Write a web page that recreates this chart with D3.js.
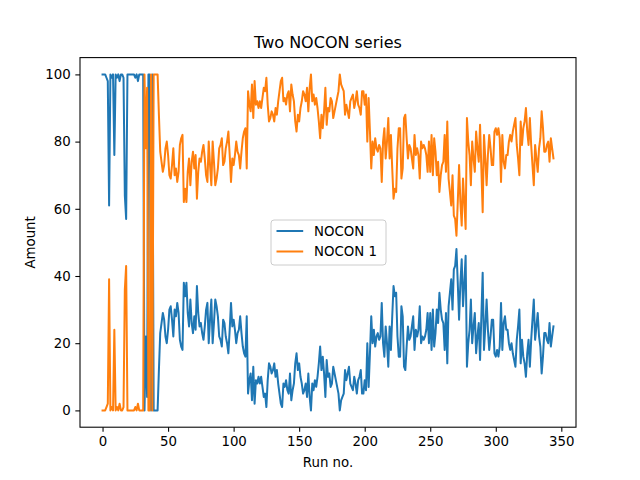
<!DOCTYPE html>
<html lang="en">
<head>
  <meta charset="UTF-8">
  <title>Two NOCON series</title>
  <script src="https://d3js.org/d3.v7.min.js"></script>
  <style>
    body {
      margin: 0;
      padding: 0;
      background-color: white;
    }
    svg text {
      font-family: "DejaVu Sans", sans-serif;
      fill: black;
    }
  </style>
</head>
<body>
  <div id="chart"></div>

  <script>
    // NOCON readings, one per run (run no. = index)
    const nocon = [
      100,100,100,99,98, 61,100,99,100,76, 100,99,100,98,100, 100,99,64,57,100,
      100,100,100,100,100, 99,100,98,100,100, 100,100,
      0,22,4,100,100,0,100,0,0,0,0,12,
      23,26,29,27,22, 20,24,30,31,27, 22,30,28,32,29, 21,19,18,38,34,
      38,29,25,33,26, 23,28,24,37,29, 25,
      26,23,21,25,30, 32,20,27,33,20, 26,33,31,28,22, 21,19,27,26,22,
      20,17,24,32,25, 27,24,20,23,24, 28,23,19,17,16, 28,5,9,
      11,3,13,2,9, 8,10,8,10,7, 4,5,1,9,14, 13,11,12,14,10,
      12,8,5,2,1, 8,7,9,6,5, 11,3,6,8,14, 17,12,
      14,10,8,5,6, 8,4,11,4,0, 8,6,9,7,10, 14,19,12,16,11,
      4,15,10,11,7, 8,13,11,9,7, 5,0,3,4,5, 12,9,11,13,8,
      7,6,10,8,5, 9,10,12,5,5, 9,6,
      20,7,17,28,20, 24,19,22,23,21, 22,32,20,16,25, 20,13,25,18,28,
      37,34,35,22,16, 16,31,28,13,12, 19,25,21,22,25, 28,18,24,22,24,
      31,20,22,21,22, 24,29,20,
      29,18,30,19,23, 30,26,35,30,27, 26,18,29,14,31, 35,39,30,42,43,
      48,38,27,38,45, 31,38,46,13,20, 24,33,20,25,29, 17,22,26,15,28,
      41,18,25,33,24, 18,22,27,27,17, 16,18,16,19,
      32,18,26,28,24, 24,20,18,20,17, 15,13,21,25,30, 14,21,16,14,10,
      17,21,13,21,27, 33,21,25,29,22, 19,11,16,23,23, 21,20,26,19,22,
      25
    ];

    // NOCON 1 readings, one per run
    const nocon1 = [
      0,0,0,1,2, 39,0,1,0,24, 0,1,0,2,0, 0,1,36,43,0,
      0,0,0,0,0, 1,0,2,0,0, 0,0,
      100,78,96,0,0,100,0,100,100,100,100,88,
      77,74,71,73,78, 80,76,70,69,73, 78,70,72,68,71, 79,81,82,62,66,
      62,71,75,67,74, 77,72,76,63,71, 75,
      74,77,79,75,70, 68,80,73,67,80, 74,67,69,72,78, 79,81,73,74,78,
      80,83,76,68,75, 73,76,80,77,76, 72,77,81,83,84, 72,95,91,
      89,97,87,98,91, 92,90,92,90,93, 96,95,99,91,86, 87,89,88,86,90,
      88,92,95,98,99, 92,93,91,94,95, 89,97,94,92,86, 83,88,
      86,90,92,95,94, 92,96,89,96,100, 92,94,91,93,90, 86,81,88,84,89,
      96,85,90,89,93, 92,87,89,91,93, 95,100,97,96,95, 88,91,89,87,92,
      93,94,90,92,95, 91,90,88,95,95, 91,94,
      80,93,83,72,80, 76,81,78,77,79, 78,68,80,84,75, 80,87,75,82,72,
      63,66,65,78,84, 84,69,72,87,88, 81,75,79,78,75, 72,82,76,78,76,
      69,80,78,79,78, 76,71,80,
      71,82,70,81,77, 70,74,65,70,73, 74,82,71,86,69, 65,61,70,58,57,
      52,62,73,62,55, 69,62,54,87,80, 76,67,80,75,71, 83,78,74,85,72,
      59,82,75,67,76, 82,78,73,73,83, 84,82,84,81,
      68,82,74,72,76, 76,80,82,80,83, 85,87,79,75,70, 86,79,84,86,90,
      83,79,87,79,73, 67,79,75,71,78, 81,89,84,77,77, 79,80,74,81,78,
      75
    ];

    const seriesNames = ["NOCON", "NOCON 1"];
    const seriesColors = ["#1f77b4", "#ff7f0e"];
    const xTicks = [0, 50, 100, 150, 200, 250, 300, 350];
    const yTicks = [0, 20, 40, 60, 80, 100];

    const width = 640;
    const height = 480;
    const margin = { top: 57.6, right: 64, bottom: 52.8, left: 80 };

    const svg = d3.select("#chart")
      .append("svg")
      .attr("width", width)
      .attr("height", height);

    const n = nocon.length;
    const x = d3.scaleLinear()
      .domain([-(n - 1) * 0.05, (n - 1) * 1.05])
      .range([margin.left, width - margin.right]);

    const y = d3.scaleLinear()
      .domain([-5, 105])
      .range([height - margin.bottom, margin.top]);

    // axes
    const xAxis = svg.append("g")
      .attr("transform", `translate(0,${height - margin.bottom})`)
      .call(d3.axisBottom(x).tickValues(xTicks).tickSize(4.67).tickPadding(4.67).tickSizeOuter(0));

    const yAxis = svg.append("g")
      .attr("transform", `translate(${margin.left},0)`)
      .call(d3.axisLeft(y).tickValues(yTicks).tickSize(4.67).tickPadding(4.67).tickSizeOuter(0));

    [xAxis, yAxis].forEach(g => {
      g.select(".domain").remove();
      g.selectAll(".tick line").attr("stroke", "black").attr("stroke-width", 1.07);
      g.selectAll(".tick text")
        .style("font-size", "13.33px")
        .style("font-family", "'DejaVu Sans', sans-serif")
        .attr("fill", "black");
    });

    // lines
    const line = d3.line()
      .x((d, i) => x(i))
      .y(d => y(d));

    [nocon, nocon1].forEach((s, k) => {
      svg.append("path")
        .datum(s)
        .attr("fill", "none")
        .attr("stroke", seriesColors[k])
        .attr("stroke-width", 2)
        .attr("stroke-linejoin", "round")
        .attr("stroke-linecap", "square")
        .attr("d", line);
    });

    // frame
    svg.append("rect")
      .attr("x", margin.left)
      .attr("y", margin.top)
      .attr("width", width - margin.left - margin.right)
      .attr("height", height - margin.top - margin.bottom)
      .attr("fill", "none")
      .attr("stroke", "black")
      .attr("stroke-width", 1.07);

    // title and labels
    svg.append("text")
      .attr("x", (margin.left + width - margin.right) / 2)
      .attr("y", 48)
      .attr("text-anchor", "middle")
      .style("font-size", "16px")
      .text("Two NOCON series");

    svg.append("text")
      .attr("x", (margin.left + width - margin.right) / 2)
      .attr("y", 467)
      .attr("text-anchor", "middle")
      .style("font-size", "13.33px")
      .text("Run no.");

    svg.append("text")
      .attr("transform", `translate(35,${(margin.top + height - margin.bottom) / 2}) rotate(-90)`)
      .attr("text-anchor", "middle")
      .style("font-size", "13.33px")
      .text("Amount");

    // legend
    const legend = svg.append("g").attr("transform", "translate(271,220)");
    legend.append("rect")
      .attr("width", 115)
      .attr("height", 45)
      .attr("rx", 3)
      .attr("fill", "white")
      .attr("fill-opacity", 0.8)
      .attr("stroke", "#cccccc")
      .attr("stroke-width", 1);

    seriesNames.forEach((name, i) => {
      const row = legend.append("g").attr("transform", `translate(0,${11 + i * 20.5})`);
      row.append("line")
        .attr("x1", 5.5)
        .attr("x2", 32.2)
        .attr("stroke", seriesColors[i])
        .attr("stroke-width", 2);
      row.append("text")
        .attr("x", 43)
        .attr("y", 4.8)
        .style("font-size", "13.33px")
        .text(name);
    });
  </script>
</body>
</html>
